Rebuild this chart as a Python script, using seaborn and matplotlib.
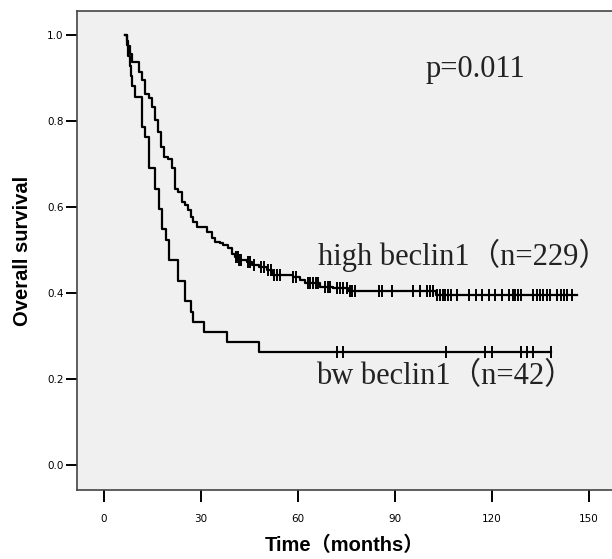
"""Kaplan-Meier style survival curves, beclin1 high vs low."""

import numpy as np
import matplotlib
matplotlib.use('Agg')
import matplotlib.pyplot as plt
import seaborn as sns

# step times (months) and survival after each step
high_times = [6.5, 7.0, 7.5, 8.0, 8.6, 10.9, 11.6, 12.7, 14.0, 14.7, 15.8, 16.8, 17.6,
              18.7, 19.9, 20.9, 22.0, 23.0, 24.0, 25.1, 26.1, 26.8, 27.6, 28.9, 31.8,
              33.3, 34.3, 35.9, 36.9, 38.5, 39.5, 40.5, 41.5, 44.1, 45.7, 48.0, 50.3,
              52.0, 58.6, 60.6, 62.2, 66.8, 70.9, 75.6, 102.6, 146.2]
high_surv = [1.0, 0.987, 0.974, 0.956, 0.938, 0.915, 0.895, 0.864, 0.853, 0.833, 0.802,
             0.775, 0.740, 0.717, 0.711, 0.690, 0.643, 0.636, 0.612, 0.605, 0.593, 0.577,
             0.566, 0.554, 0.543, 0.527, 0.519, 0.516, 0.512, 0.504, 0.492, 0.484, 0.477,
             0.473, 0.465, 0.461, 0.453, 0.443, 0.438, 0.430, 0.423, 0.415, 0.411, 0.405,
             0.395, 0.395]
high_censored = [40.8, 41.3, 41.8, 42.4, 44.6, 45.2, 46.5, 48.6, 49.5, 50.8, 51.6, 52.6,
                 53.5, 54.4, 58.6, 59.4, 63.0, 63.8, 64.6, 65.5, 66.3, 68.4, 69.2, 69.9,
                 72.0, 73.0, 74.0, 75.0, 76.1, 76.8, 77.6, 84.9, 85.9, 89.0, 95.7, 97.7,
                 99.8, 100.8, 101.8, 103.1, 103.9, 104.8, 105.6, 106.4, 107.2, 109.1,
                 113.0, 115.1, 117.0, 119.0, 121.0, 123.1, 125.4, 126.4, 127.2, 128.0,
                 128.9, 132.8, 133.8, 134.8, 135.9, 136.9, 137.9, 140.2, 141.2, 142.2,
                 143.2, 144.8]

low_times = [6.5, 7.0, 7.5, 8.0, 8.2, 8.8, 9.6, 11.7, 12.7, 13.8, 15.8, 17.1, 18.0, 19.1,
             20.1, 23.0, 25.0, 26.8, 27.6, 30.9, 38.1, 47.9, 138.2]
low_surv = [1.0, 0.976, 0.952, 0.929, 0.905, 0.881, 0.857, 0.786, 0.762, 0.690, 0.643,
            0.595, 0.548, 0.524, 0.476, 0.429, 0.381, 0.357, 0.333, 0.310, 0.286, 0.262,
            0.262]
low_censored = [72.2, 74.0, 105.9, 117.8, 119.9, 128.9, 130.7, 132.8, 138.2]

x_ticks = [0, 30, 60, 90, 120, 150]
y_ticks = [0.0, 0.2, 0.4, 0.6, 0.8, 1.0]


def censor_levels(times, surv, cens):
    # survival value of the step that is active at each censoring time
    idx = np.searchsorted(times, cens, side='right') - 1
    return np.asarray(surv)[idx]


fig = plt.figure(figsize=(6.12, 5.59), dpi=100)
ax = fig.add_axes([0.1258, 0.1234, 0.8742, 0.8569])
ax.set_facecolor('#f0f0f0')

for times, surv, cens in [(high_times, high_surv, high_censored),
                          (low_times, low_surv, low_censored)]:
    sns.lineplot(x=times, y=surv, drawstyle='steps-post', estimator=None, sort=False,
                 color='black', linewidth=1.6, ax=ax)
    sns.scatterplot(x=cens, y=censor_levels(times, surv, cens), marker='|', s=70,
                    linewidth=1.4, color='black', ax=ax, zorder=3)

serif = ['Liberation Serif', 'Noto Sans CJK SC']
ax.text(99.3, 0.919, 'p=0.011', fontsize=22, family=serif, va='center', color='#222222')
ax.text(66.2, 0.487, 'high beclin1（n=229）', fontsize=22, family=serif, va='center',
        color='#222222')
ax.text(65.5, 0.207, 'bw beclin1（n=42）', fontsize=22, family=serif, va='center',
        color='#222222')

ax.set_xlim(-8.35, 157.1)
ax.set_ylim(-0.058, 1.056)
ax.set_xticks(x_ticks)
ax.set_yticks(y_ticks)
ax.set_yticklabels([f'{v:.1f}' for v in y_ticks])
ax.tick_params(axis='x', direction='out', length=8.5, width=1.4, pad=9, labelsize=7.5)
ax.tick_params(axis='y', direction='out', length=8, width=1.4, pad=1.5, labelsize=7.5)

for side in ['left', 'top', 'bottom']:
    ax.spines[side].set_color('#444444')
    ax.spines[side].set_linewidth(1.2)
ax.spines['right'].set_visible(False)

sans = ['Liberation Sans', 'Noto Sans CJK SC']
ax.set_xlabel('Time（months）', fontsize=14.5, fontweight='bold', family=sans, labelpad=8)
ax.set_ylabel('Overall survival', fontsize=14.5, fontweight='bold', family=sans, labelpad=11)

plt.savefig('out.png', dpi=100)
print("Saved: out.png")
